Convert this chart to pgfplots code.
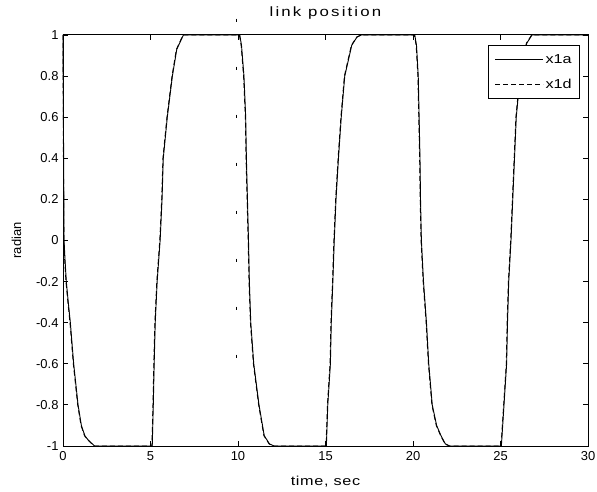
\documentclass[border=0pt]{standalone}
\usepackage{pgfplots}
\pgfplotsset{compat=1.18}
\usepackage{fontspec}
\setmainfont{Liberation Sans}
\newfontfamily\widefont[FakeStretch=1.25]{Liberation Sans}
\newfontfamily\titlefont[FakeStretch=1.25, LetterSpace=16]{Liberation Sans}
\newfontfamily\labelfont[FakeStretch=1.25, LetterSpace=5]{Liberation Sans}

% link position: actual (x1a) and desired (x1d) trajectories
\pgfplotstableread{
t y
0 1
0.03 0.5
0.06 0.0
0.12 -0.1
0.19 -0.2
0.30 -0.3
0.42 -0.4
0.61 -0.6
0.86 -0.8
1.05 -0.9
1.25 -0.95
1.43 -0.97
1.8 -1
5.1 -1
5.16 -0.8
5.21 -0.6
5.27 -0.4
5.38 -0.2
5.55 0
5.66 0.2
5.73 0.4
5.96 0.6
6.25 0.8
6.5 0.93
6.88 1
10.1 1
10.2 0.95
10.34 0.8
10.44 0.6
10.48 0.4
10.54 0.2
10.6 0
10.65 -0.2
10.73 -0.4
10.9 -0.6
11.2 -0.8
11.5 -0.95
11.8 -0.99
12.06 -1
15.05 -1
15.13 -0.8
15.28 -0.6
15.33 -0.4
15.42 -0.2
15.5 0
15.6 0.2
15.74 0.4
15.9 0.6
16.1 0.8
16.5 0.95
16.8 0.99
17.05 1
20.1 1
20.2 0.95
20.3 0.8
20.35 0.6
20.4 0.4
20.43 0.2
20.48 0
20.6 -0.2
20.77 -0.4
20.9 -0.6
21.1 -0.8
21.35 -0.9
21.6 -0.95
21.85 -0.99
22.1 -1
25.05 -1
25.2 -0.8
25.35 -0.6
25.4 -0.4
25.47 -0.2
25.6 0
25.7 0.2
25.8 0.4
25.9 0.6
26.0 0.69
26.2 0.85
26.5 0.96
26.8 1
30 1
}\actual

\pgfplotstableread{
t y
0 1
0.02 0.5
0.05 0.0
0.10 -0.1
0.17 -0.2
0.28 -0.3
0.40 -0.4
0.59 -0.6
0.84 -0.8
1.03 -0.9
1.23 -0.95
1.41 -0.97
1.78 -1
5.08 -1
5.14 -0.8
5.19 -0.6
5.25 -0.4
5.36 -0.2
5.53 0
5.64 0.2
5.71 0.4
5.94 0.6
6.23 0.8
6.48 0.93
6.86 1
10.08 1
10.18 0.95
10.32 0.8
10.42 0.6
10.46 0.4
10.52 0.2
10.58 0
10.63 -0.2
10.71 -0.4
10.88 -0.6
11.18 -0.8
11.48 -0.95
11.78 -0.99
12.04 -1
15.03 -1
15.11 -0.8
15.26 -0.6
15.31 -0.4
15.40 -0.2
15.48 0
15.58 0.2
15.72 0.4
15.88 0.6
16.08 0.8
16.48 0.95
16.78 0.99
17.03 1
20.08 1
20.18 0.95
20.28 0.8
20.33 0.6
20.38 0.4
20.41 0.2
20.46 0
20.58 -0.2
20.75 -0.4
20.88 -0.6
21.08 -0.8
21.33 -0.9
21.58 -0.95
21.83 -0.99
22.08 -1
25.03 -1
25.18 -0.8
25.33 -0.6
25.38 -0.4
25.45 -0.2
25.58 0
25.68 0.2
25.78 0.4
25.88 0.6
25.98 0.69
26.18 0.85
26.48 0.96
26.78 1
30 1
}\desired

\begin{document}
\begin{tikzpicture}[font=\fontsize{13}{15}\selectfont]
\useasboundingbox (0,0) rectangle (597bp,492bp);
\begin{axis}[
  at={(63bp,46bp)}, anchor=south west,
  scale only axis, width=525bp, height=411bp,
  xmin=0, xmax=30, ymin=-1, ymax=1,
  xtick={0,5,10,15,20,25,30},
  ytick={-1,-0.8,-0.6,-0.4,-0.2,0,0.2,0.4,0.6,0.8,1},
  yticklabels={-1,-0.8,-0.6,-0.4,-0.2,0,0.2,0.4,0.6,0.8,1},
  tick align=inside, major tick length=5bp,
  xtick pos=both, ytick pos=both,
  tick style={black, line width=0.8bp},
  axis line style={line width=1bp},
  /pgf/number format/assume math mode=true,
  xticklabel style={yshift=-2bp},
  yticklabel style={xshift=-1bp},
  title={link position},
  title style={at={(axis description cs:0.5,1)}, anchor=base, yshift=13bp,
    font=\titlefont\fontsize{13.5}{15}\selectfont},
  xlabel={time, sec},
  xlabel style={at={(axis description cs:0.5,0)}, anchor=base, yshift=-39bp,
    font=\labelfont\fontsize{13}{15}\selectfont},
  ylabel={radian},
  ylabel style={at={([xshift=-42bp]axis description cs:0,0.5)}, anchor=base, rotate=0},
  clip=false,
  legend style={at={(0.985,0.976)}, anchor=north east, draw=black, line width=0.8bp,
    fill=white, inner xsep=6bp, inner ysep=7bp, row sep=10bp,
    font=\widefont\fontsize{13}{15}\selectfont, cells={anchor=west}},
  legend cell align=left,
  legend image code/.code={\draw[#1] (0bp,0bp) -- (48bp,0bp);},
]
\addplot[black, line width=0.9bp] table[x=t, y=y] {\actual};
\addlegendentry{x1a}
\addplot[black, line width=0.9bp, dash pattern=on 5bp off 3bp] table[x=t, y=y] {\desired};
\addlegendentry{x1d}
% sparse dotted mark at t = 10
\addplot[black, line width=0.8bp, dash pattern=on 3bp off 45bp, forget plot] coordinates {(9.9,1.08) (9.9,-0.6)};
\end{axis}
\end{tikzpicture}
\end{document}
